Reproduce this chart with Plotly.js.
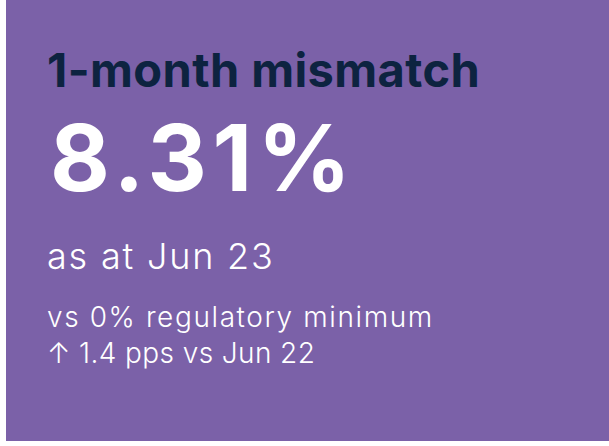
<!DOCTYPE html>
<html>
<head>
<meta charset="utf-8">
<script src="https://cdn.plot.ly/plotly-3.0.1.min.js"></script>
<style>html,body{margin:0;padding:0;background:#fff;}#chart{width:609px;height:446px;}</style>
</head>
<body>
<div id="chart"></div>
<script>
const titleText = "1-month mismatch";
const valueText = "8.31%";
const dateText = "as at Jun 23";
const noteLines = ["vs 0% regulatory minimum", "↑ 1.4 pps vs Jun 22"];

const W = 609, H = 446;
const fx = px => px / W;
const fy = py => 1 - py / H;
const FONT = "Inter, 'Open Sans', sans-serif";

const specs = [
  {text: titleText, x: 45, y: 69, size: 47, color: "#0d2340", weight: 700, ls: 0.4},
  {text: valueText, x: 48, y: 157, size: 92, color: "#ffffff", weight: 700, ls: 5.5},
  {text: dateText, x: 45, y: 256, size: 36, color: "#ffffff", weight: 300, ls: 1.8},
  {text: noteLines[0], x: 45, y: 317, size: 28, color: "#ffffff", weight: 300, ls: 1.6},
  {text: noteLines[1], x: 45, y: 353, size: 28, color: "#ffffff", weight: 300, ls: 0.4}
];

const annotations = specs.map(s => ({
  text: s.text, x: fx(s.x), y: fy(s.y),
  font: {family: FONT, size: s.size, color: s.color, weight: s.weight},
  xref: "paper", yref: "paper", xanchor: "left", yanchor: "middle", showarrow: false
}));

const layout = {
  width: W, height: H,
  margin: {l: 0, r: 0, t: 0, b: 0},
  paper_bgcolor: "#ffffff",
  plot_bgcolor: "rgba(0,0,0,0)",
  xaxis: {visible: false, range: [0, 1], fixedrange: true},
  yaxis: {visible: false, range: [0, 1], fixedrange: true},
  shapes: [{type: "rect", xref: "paper", yref: "paper", x0: fx(6), x1: 1, y0: fy(441), y1: 1,
            fillcolor: "#7b61a8", line: {width: 0}, layer: "below"}],
  annotations: annotations,
  showlegend: false
};

Plotly.newPlot("chart", [], layout, {staticPlot: true, displayModeBar: false}).then(gd => {
  const texts = gd.querySelectorAll("g.annotation text.annotation-text");
  texts.forEach((t, i) => {
    const s = specs[i];
    if (!s || !s.ls) return;
    const left = t.getBBox().x;
    t.style.letterSpacing = s.ls + "px";
    t.setAttribute("text-anchor", "start");
    t.setAttribute("x", left);
  });
});
</script>
</body>
</html>
